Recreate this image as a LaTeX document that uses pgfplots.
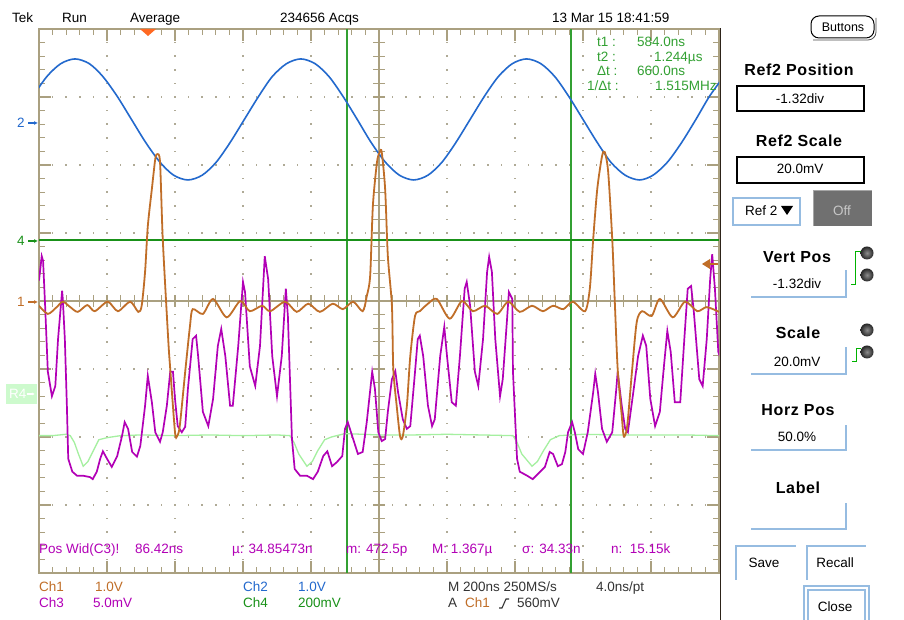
\documentclass[border=0pt]{standalone}
\usepackage{fontspec}
\setmainfont{Liberation Sans}
\usepackage{pgfplots}
\pgfplotsset{compat=1.18}
\usetikzlibrary{arrows.meta}

\definecolor{grat}{RGB}{170,160,128}
\definecolor{gratdot}{RGB}{175,170,150}
\definecolor{chone}{RGB}{192,110,40}
\definecolor{chtwo}{RGB}{35,105,205}
\definecolor{chthree}{RGB}{178,0,182}
\definecolor{chfour}{RGB}{25,145,25}
\definecolor{refgreen}{RGB}{165,240,160}
\definecolor{refbox}{RGB}{205,250,205}
\definecolor{curs}{RGB}{50,160,50}
\definecolor{trig}{RGB}{255,105,35}
\definecolor{pblue}{RGB}{150,188,225}
\definecolor{sep}{RGB}{45,35,25}

\tikzset{
  txt/.style={inner sep=0pt, font=\fontsize{13.5}{15}\selectfont, anchor=base west},
  ptitle/.style={inner sep=0pt, font=\fontsize{16}{18}\selectfont\bfseries\addfontfeature{LetterSpace=4}, anchor=base},
  pval/.style={inner sep=0pt, font=\fontsize{13.5}{15}\selectfont, anchor=base},
}

\begin{document}
\begin{tikzpicture}[x=1pt,y=1pt]
% canvas
\fill[white] (0,0) rectangle (904,620);
\useasboundingbox (0,0) rectangle (904,620);

% ---------- graticule ----------
\foreach \k in {1,2,3,4,6,7,8,9}{
  \foreach \j in {1,...,39}{
    \fill[gratdot] ({39+68*\k-0.8},{47+13.6*\j-0.8}) rectangle ++(1.6,1.6);
  }
}
\foreach \m in {1,2,3,5,6,7}{
  \foreach \i in {1,...,49}{
    \fill[gratdot] ({39+13.6*\i-0.8},{47+68*\m-0.8}) rectangle ++(1.6,1.6);
  }
}
\begin{scope}[grat, line width=1.3pt]
  \draw (39,47) rectangle (719,591);
  \draw (39,319) -- (719,319);
  \draw (379,47) -- (379,591);
  \foreach \i in {0,...,50}{
    \pgfmathsetmacro\len{ifthenelse(mod(\i,5)==0,12,6)}
    \draw ({39+13.6*\i},591) -- ++(0,-\len);
    \draw ({39+13.6*\i},47) -- ++(0,\len);
    \draw ({39+13.6*\i},313) -- ++(0,12);
  }
  \foreach \j in {0,...,40}{
    \pgfmathsetmacro\len{ifthenelse(mod(\j,5)==0,12,6)}
    \draw (39,{47+13.6*\j}) -- ++(\len,0);
    \draw (719,{47+13.6*\j}) -- ++(-\len,0);
    \draw (373,{47+13.6*\j}) -- ++(12,0);
  }
\end{scope}

% ---------- traces (x and y in divisions) ----------
\begin{axis}[at={(39pt,47pt)}, anchor=south west,
  width=680pt, height=544pt, scale only axis,
  xmin=-5, xmax=5, ymin=-4, ymax=4, hide axis, clip=true]

% cursors t1 and t2
\addplot[curs, line width=2pt] coordinates {(-0.47,-4) (-0.47,4)};
\addplot[curs, line width=2pt] coordinates {(2.82,-4) (2.82,4)};

% R4 reference
\addplot[refgreen, line width=1.3pt] coordinates {
(-5.00,-1.98) (-4.80,-1.98) (-4.60,-1.96) (-4.54,-1.98) (-4.48,-2.08) (-4.42,-2.25)
(-4.35,-2.43) (-4.28,-2.36) (-4.20,-2.20) (-4.12,-2.04) (-4.00,-2.01) (-3.80,-1.98)
(-3.50,-1.97) (-3.00,-1.98) (-2.50,-1.97) (-2.00,-1.98) (-1.50,-1.97) (-1.31,-1.98)
(-1.25,-2.08) (-1.18,-2.25) (-1.06,-2.43) (-0.98,-2.36) (-0.90,-2.20) (-0.80,-2.04)
(-0.70,-2.00) (-0.50,-1.95) (0.00,-1.97) (0.50,-1.97) (1.00,-1.96) (1.50,-1.97)
(1.97,-1.98) (2.03,-2.08) (2.10,-2.25) (2.25,-2.43) (2.33,-2.36) (2.42,-2.20)
(2.52,-2.04) (2.65,-1.98) (3.00,-1.96) (3.50,-1.97) (4.00,-1.97) (4.50,-1.97) (5.00,-1.98)};

% Ch4
\addplot[chfour, line width=1.6pt] coordinates {(-5,0.90) (5,0.90)};

% Ch2
\addplot[chtwo, line width=1.6pt, smooth] coordinates {
(-5.09,3.01) (-4.885,3.30) (-4.68,3.49) (-4.47,3.56) (-4.26,3.49) (-4.06,3.30)
(-3.85,3.01) (-3.64,2.67) (-3.43,2.33) (-3.22,2.04) (-3.02,1.85) (-2.81,1.78)
(-2.60,1.85) (-2.395,2.04) (-2.19,2.33) (-1.98,2.67) (-1.77,3.01) (-1.57,3.30)
(-1.36,3.49) (-1.15,3.56) (-0.94,3.49) (-0.735,3.30) (-0.53,3.01) (-0.32,2.67)
(-0.115,2.33) (0.095,2.04) (0.30,1.85) (0.51,1.78) (0.72,1.85) (0.925,2.04)
(1.13,2.33) (1.34,2.67) (1.55,3.01) (1.755,3.30) (1.96,3.49) (2.17,3.56)
(2.38,3.49) (2.585,3.30) (2.79,3.01) (3.00,2.67) (3.21,2.33) (3.41,2.04)
(3.62,1.85) (3.83,1.78) (4.03,1.85) (4.24,2.04) (4.45,2.33) (4.66,2.67)
(4.86,3.01) (5.07,3.30)};

% Ch3
\addplot[chthree, line width=1.7pt] coordinates {
(-5.00,0.30) (-4.96,0.66) (-4.94,0.59) (-4.91,-0.07) (-4.87,-1.04) (-4.81,-1.40)
(-4.76,-1.25) (-4.72,-0.56) (-4.66,0.15) (-4.65,0.03) (-4.62,-0.56) (-4.59,-1.54)
(-4.57,-2.32) (-4.51,-2.51) (-4.44,-2.57) (-4.35,-2.57) (-4.25,-2.59) (-4.21,-2.62)
(-4.15,-2.51) (-4.10,-2.32) (-4.06,-2.21) (-4.00,-2.32) (-3.93,-2.44) (-3.85,-2.28)
(-3.78,-1.99) (-3.74,-1.78) (-3.69,-1.88) (-3.63,-2.22) (-3.56,-2.29) (-3.51,-2.13)
(-3.44,-1.54) (-3.40,-1.10) (-3.34,-1.49) (-3.29,-1.93) (-3.22,-2.07) (-3.18,-1.93)
(-3.12,-1.54) (-3.07,-1.04) (-3.03,-1.04) (-3.00,-1.44) (-2.96,-1.84) (-2.90,-1.93)
(-2.85,-1.85) (-2.81,-1.29) (-2.74,-0.56) (-2.69,-0.51) (-2.66,-0.81) (-2.59,-1.63)
(-2.51,-1.84) (-2.44,-1.44) (-2.37,-0.66) (-2.32,-0.41) (-2.26,-0.81) (-2.19,-1.54)
(-2.15,-1.54) (-2.07,-0.66) (-2.00,0.28) (-1.97,0.13) (-1.90,-0.96) (-1.82,-1.25)
(-1.75,-0.66) (-1.68,0.66) (-1.63,0.32) (-1.57,-0.81) (-1.50,-1.40) (-1.43,-0.81)
(-1.37,0.18) (-1.34,-0.22) (-1.28,-2.03) (-1.24,-2.47) (-1.16,-2.57) (-1.06,-2.57)
(-0.97,-2.62) (-0.90,-2.51) (-0.82,-2.28) (-0.76,-2.21) (-0.69,-2.43) (-0.62,-2.37)
(-0.54,-2.28) (-0.50,-1.88) (-0.46,-1.78) (-0.38,-2.03) (-0.31,-2.25) (-0.24,-2.22)
(-0.18,-1.78) (-0.10,-1.04) (-0.06,-1.29) (-0.01,-1.93) (0.04,-2.06) (0.09,-2.03)
(0.13,-1.63) (0.19,-1.15) (0.24,-1.03) (0.28,-1.34) (0.35,-1.74) (0.41,-1.88)
(0.46,-1.84) (0.53,-1.04) (0.57,-0.56) (0.60,-0.51) (0.65,-0.81) (0.72,-1.54)
(0.78,-1.84) (0.82,-1.74) (0.90,-0.81) (0.96,-0.38) (1.00,-0.81) (1.07,-1.49)
(1.13,-1.54) (1.19,-0.81) (1.26,0.18) (1.29,0.28) (1.34,-0.07) (1.41,-1.04)
(1.46,-1.25) (1.53,-0.56) (1.59,0.43) (1.62,0.65) (1.66,0.43) (1.71,-0.56)
(1.78,-1.40) (1.82,-1.15) (1.88,-0.31) (1.91,0.13) (1.96,0.03) (1.97,-1.04)
(2.03,-2.32) (2.07,-2.51) (2.18,-2.57) (2.26,-2.62) (2.37,-2.51) (2.44,-2.44)
(2.51,-2.22) (2.56,-2.25) (2.63,-2.43) (2.69,-2.40) (2.74,-2.22) (2.78,-1.93)
(2.84,-1.78) (2.88,-1.93) (2.93,-2.18) (3.00,-2.25) (3.07,-1.93) (3.15,-1.34)
(3.18,-1.07) (3.22,-1.34) (3.28,-1.88) (3.35,-2.07) (3.43,-1.93) (3.49,-1.29)
(3.51,-1.04) (3.57,-1.54) (3.62,-1.88) (3.66,-1.93) (3.74,-1.34) (3.81,-0.81)
(3.88,-0.51) (3.93,-0.66) (3.99,-1.44) (4.06,-1.84) (4.13,-1.63) (4.19,-0.96)
(4.24,-0.44) (4.29,-0.75) (4.35,-1.49) (4.43,-1.49) (4.49,-0.56) (4.54,0.18)
(4.59,0.22) (4.63,-0.16) (4.71,-1.15) (4.76,-1.25) (4.82,-0.56) (4.87,0.32)
(4.90,0.69) (4.94,0.18) (4.99,-0.75) (5.01,-0.81)};

% Ch1
\addplot[chone, line width=1.8pt, smooth, tension=0.45] coordinates {
(-5.00,-0.07) (-4.87,-0.19) (-4.74,-0.09) (-4.65,-0.01) (-4.54,-0.09) (-4.43,-0.16)
(-4.29,-0.06) (-4.18,-0.15) (-3.99,-0.01) (-3.84,-0.15) (-3.66,-0.01) (-3.54,-0.16)
(-3.49,-0.07) (-3.44,0.43) (-3.40,1.10) (-3.34,1.65) (-3.29,2.09) (-3.26,2.16)
(-3.22,2.04) (-3.18,0.91) (-3.10,-0.56) (-3.07,-1.00) (-3.00,-1.93) (-2.97,-1.99)
(-2.93,-1.84) (-2.85,-1.04) (-2.78,-0.37) (-2.74,-0.12) (-2.59,-0.19) (-2.44,0.03)
(-2.24,-0.24) (-2.04,0.00) (-1.90,-0.15) (-1.72,-0.07) (-1.60,-0.15) (-1.38,-0.01)
(-1.21,-0.16) (-1.04,-0.04) (-0.87,-0.16) (-0.68,-0.04) (-0.53,-0.12) (-0.38,-0.01)
(-0.24,-0.15) (-0.18,0.07) (-0.13,0.37) (-0.09,1.40) (-0.03,2.04) (0.01,2.19)
(0.04,2.19) (0.09,1.65) (0.13,0.66) (0.19,-0.07) (0.21,-1.00) (0.26,-1.54)
(0.31,-1.99) (0.35,-1.99) (0.41,-1.54) (0.46,-0.81) (0.53,-0.22) (0.60,-0.15)
(0.72,-0.04) (0.85,0.03) (1.04,-0.26) (1.22,0.00) (1.38,-0.15) (1.56,-0.07)
(1.74,-0.19) (1.90,-0.01) (2.07,-0.16) (2.25,-0.07) (2.41,-0.15) (2.56,-0.07)
(2.71,-0.12) (2.85,-0.01) (3.03,-0.15) (3.10,0.18) (3.15,0.91) (3.21,1.65)
(3.28,2.13) (3.32,2.19) (3.37,1.90) (3.43,0.91) (3.47,-0.07) (3.51,-1.00)
(3.57,-1.69) (3.60,-1.99) (3.65,-1.84) (3.72,-1.04) (3.79,-0.31) (3.87,-0.15)
(4.01,-0.22) (4.13,0.03) (4.32,-0.24) (4.50,-0.01) (4.68,-0.15) (4.82,-0.09) (5.00,-0.16)};
\end{axis}

% ---------- screen annotations ----------
% trigger position
\fill[trig] (140,591) -- (156,591) -- (148,584) -- cycle;
% trigger level
\fill[chone] (702,356) -- (710,361) -- (710,351) -- cycle;
\draw[chone, line width=1.5pt] (708,356) -- (718,356);

% channel ground markers
\node[txt, text=chtwo] at (17,492) {2};
\draw[chtwo, line width=1.3pt, -{Latex[length=4pt,width=4pt]}] (28,497) -- (38,497);
\node[txt, text=chfour] at (17,374) {4};
\draw[chfour, line width=1.3pt, -{Latex[length=4pt,width=4pt]}] (28,379) -- (38,379);
\node[txt, text=chone] at (17,313) {1};
\draw[chone, line width=1.3pt, -{Latex[length=4pt,width=4pt]}] (28,318) -- (38,318);
\fill[refbox] (6,216) rectangle (37,236);
\node[txt, text=white] at (9,221) {R4};
\draw[white, line width=1.2pt, -{Latex[length=3pt,width=3pt]}] (27,226) -- (35,226);

% header
\node[txt] at (12,597) {Tek};
\node[txt] at (62,597) {Run};
\node[txt] at (130,597) {Average};
\node[txt] at (280,597) {234656 Acqs};
\node[txt] at (552,597) {13 Mar 15 18:41:59};

% cursor readout
\begin{scope}[every node/.style={txt, text=curs}]
  \node at (597,573) {t1 :};   \node at (637,573) {584.0ns};
  \node at (597,558) {t2 :};   \node at (654,558) {1.244µs};
  \node at (597,544) {Δt :};   \node at (637,544) {660.0ns};
  \node at (587,529) {1/Δt :}; \node at (655,529) {1.515MHz};
\end{scope}

% measurement line
\begin{scope}[every node/.style={txt, text=chthree}]
  \node at (39,66) {Pos Wid(C3)!};
  \node at (135,66) {86.42ns};
  \node at (232,66) {µ: 34.85473n};
  \node at (346,66) {m: 472.5p};
  \node at (432,66) {M: 1.367µ};
  \node at (522,66) {σ: 34.33n};
  \node at (611,66) {n:\ \ 15.15k};
\end{scope}

% channel settings
\node[txt, text=chone] at (39,28) {Ch1};
\node[txt, text=chone] at (95,28) {1.0V};
\node[txt, text=chthree] at (39,12) {Ch3};
\node[txt, text=chthree] at (93,12) {5.0mV};
\node[txt, text=chtwo] at (243,28) {Ch2};
\node[txt, text=chtwo] at (298,28) {1.0V};
\node[txt, text=chfour] at (243,12) {Ch4};
\node[txt, text=chfour] at (298,12) {200mV};
\node[txt, text=black!80] at (448,28) {M 200ns 250MS/s};
\node[txt, text=black!80] at (596,28) {4.0ns/pt};
\node[txt, text=black!80] at (448,12) {A};
\node[txt, text=chone] at (465,12) {Ch1};
\draw[black!80, line width=1.1pt] (499,12) -- (502,12) -- (506,21) -- (509,21);
\node[txt, text=black!80] at (517,12) {560mV};

% ---------- side menu ----------
\draw[sep, line width=1.6pt] (720.5,0) -- (720.5,592);

\draw[black, line width=1pt, rounded corners=8pt] (811,582) rectangle (874,604);
\draw[black!70, line width=0.8pt, rounded corners=8pt] (813,580) -- (876,580) -- (876,602);
\node[pval, font=\fontsize{12.5}{14}\selectfont] at (843,588) {Buttons};

\node[ptitle] at (799,544) {Ref2 Position};
\draw[black, line width=1.2pt] (737,509) rectangle (864,534);
\node[pval] at (800,516) {-1.32div};

\node[ptitle] at (799,473) {Ref2 Scale};
\draw[black, line width=1.2pt] (737,437) rectangle (864,463);
\node[pval] at (800,446) {20.0mV};

\draw[pblue, line width=1.2pt] (733,395) rectangle (800,422);
\node[pval, anchor=base west] at (745,404) {Ref 2};
\fill[black] (781,414) -- (793,414) -- (787,405) -- cycle;
\fill[black!56] (813,394) rectangle (872,429);
\draw[black!35, line width=1pt] (813,394) -- (813,429) -- (872,429);
\node[pval, text=black!22] at (842,404) {Off};

\node[ptitle] at (797,357) {Vert Pos};
\draw[pblue, line width=1.2pt] (751,323) -- (846,323) -- (846,350);
\node[pval] at (797,331) {-1.32div};
\draw[green!70!black, line width=1pt] (861,368) -- (855,368) -- (855,335) -- (851,335);
\shade[inner color=black!45, outer color=black!85] (867,367) circle (6.5);
\shade[inner color=black!45, outer color=black!85] (867,345) circle (6.5);

\node[ptitle] at (798,281) {Scale};
\draw[pblue, line width=1.2pt] (751,246) -- (846,246) -- (846,273);
\node[pval] at (797,253) {20.0mV};
\draw[green!70!black, line width=1pt] (861,271) -- (856,271) -- (856,258) -- (852,258);
\shade[inner color=black!45, outer color=black!85] (867,290) circle (6.5);
\shade[inner color=black!45, outer color=black!85] (867,268) circle (6.5);

\node[ptitle] at (798,204) {Horz Pos};
\draw[pblue, line width=1.2pt] (751,170) -- (846,170) -- (846,195);
\node[pval] at (797,178) {50.0\%};

\node[ptitle] at (798,126) {Label};
\draw[pblue, line width=1.2pt] (751,91) -- (846,91) -- (846,117);

\draw[pblue, line width=1.2pt] (736,40) -- (736,74) -- (796,74);
\node[pval] at (764,52) {Save};
\draw[pblue, line width=1.2pt] (807,40) -- (807,74) -- (866,74);
\node[pval] at (835,52) {Recall};
\draw[pblue, line width=1.2pt] (804,0) -- (804,34) -- (869,34) -- (869,0);
\draw[pblue, line width=1.2pt] (808,0) -- (808,30) -- (865,30) -- (865,0);
\node[pval] at (835,8) {Close};
\end{tikzpicture}
\end{document}
